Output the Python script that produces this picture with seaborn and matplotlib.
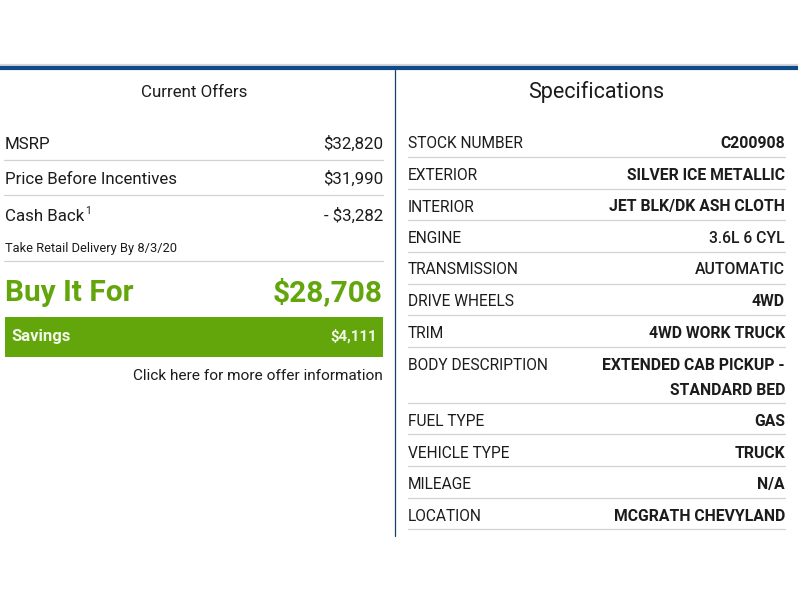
import matplotlib.pyplot as plt
import pandas as pd
import seaborn as sns
from matplotlib.patches import Rectangle

# Offer panel
offer_labels = ["MSRP", "Price Before Incentives", "Cash Back"]
offer_values = ["$32,820", "$31,990", "- $3,282"]
offer_note = "Take Retail Delivery By 8/3/20"
final_label = "Buy It For"
final_value = "$28,708"
savings_label = "Savings"
savings_value = "$4,111"
more_info = "Click here for more offer information"

# Spec panel
spec_labels = ["STOCK NUMBER", "EXTERIOR", "INTERIOR", "ENGINE", "TRANSMISSION",
               "DRIVE WHEELS", "TRIM", "BODY DESCRIPTION", "FUEL TYPE",
               "VEHICLE TYPE", "MILEAGE", "LOCATION"]
spec_values = ["C200908", "SILVER ICE METALLIC", "JET BLK/DK ASH CLOTH", "3.6L 6 CYL",
               "AUTOMATIC", "4WD", "4WD WORK TRUCK", "EXTENDED CAB PICKUP -\nSTANDARD BED",
               "GAS", "TRUCK", "N/A", "MCGRATH CHEVYLAND"]

# Layout in image pixels
offer_y = [149, 184, 221]
spec_y = [148.5, 180, 211.5, 243, 274.5, 306, 338, 370, 426, 458, 489, 521]
offer_rules = [159.5, 194.5, 260.5]
spec_rules = [157, 188.5, 220, 252, 283.5, 315, 346.5, 402.5, 434, 466, 497.5, 529]

INK = "#1c1c1c"
GREEN = "#62a60c"
BLUE = "#0f4a8a"
RULE = "#d2d2d2"

sns.set_theme(style="white")
plt.rcParams['font.family'] = ['Roboto', 'DejaVu Sans']

fig, ax = plt.subplots(figsize=(7.98, 6), dpi=100)
ax.set_position([0, 0, 1, 1])
ax.axis("off")


def rule(xs, y, color=RULE, lw=0.9):
    sns.lineplot(x=xs, y=[y, y], color=color, lw=lw, ax=ax, legend=False, errorbar=None)


# Top bars and divider
sns.lineplot(data=pd.DataFrame({"x": [0, 798], "y": [64.5, 64.5]}), x="x", y="y",
             color="#d4d6da", lw=1.6, ax=ax)
rule([0, 798], 68, color=BLUE, lw=3)
sns.lineplot(x=[395, 395], y=[70, 536], color="#12406f", lw=0.9, ax=ax, orient="y",
             estimator=None)

# Offer panel
ax.text(194, 97, "Current Offers", fontsize=12.2, color=INK, ha="center", va="baseline")
for label, value, y in zip(offer_labels, offer_values, offer_y):
    ax.text(5, y, label, fontsize=12.2, color=INK, va="baseline")
    ax.text(383, y, value, fontsize=12.2, color=INK, ha="right", va="baseline")
ax.text(85, 213.5, "1", fontsize=7.5, color=INK, va="baseline")
ax.text(5, 252, offer_note, fontsize=9.3, color=INK, va="baseline")
for y in offer_rules:
    rule([4, 383], y)

ax.text(5, 301, final_label, fontsize=21.5, fontweight="bold", color=GREEN, va="baseline")
ax.text(383, 301, final_value, fontsize=21.5, fontweight="bold", color=GREEN, ha="right", va="baseline")

ax.add_patch(Rectangle((4.5, 317), 378.5, 40, facecolor=GREEN, edgecolor="none"))
ax.text(11, 341, savings_label, fontsize=12, fontweight="bold", color="#f2f7e8", va="baseline")
ax.text(377, 341, savings_value, fontsize=10.8, fontweight="bold", color="#f2f7e8", ha="right", va="baseline")
ax.text(383, 380.5, more_info, fontsize=11.05, color=INK, ha="right", va="baseline")

# Spec panel
ax.text(596, 98, "Specifications", fontsize=15.5, color=INK, ha="center", va="baseline")
for label, value, y in zip(spec_labels, spec_values, spec_y):
    ax.text(408, y, label, fontsize=11.2, color=INK, va="baseline")
    first, *rest = value.split("\n")
    weight = "medium" if value in ("3.6L 6 CYL", "AUTOMATIC") else "bold"
    ax.text(785, y, first, fontsize=11.3, fontweight=weight, color=INK, ha="right", va="baseline")
    for extra in rest:
        ax.text(785, y + 25, extra, fontsize=11.3, fontweight=weight, color=INK, ha="right", va="baseline")
for y in spec_rules:
    rule([408, 785], y)

ax.set_xlim(0, 798)
ax.set_ylim(600, 0)
fig.savefig("out.png", dpi=100)
